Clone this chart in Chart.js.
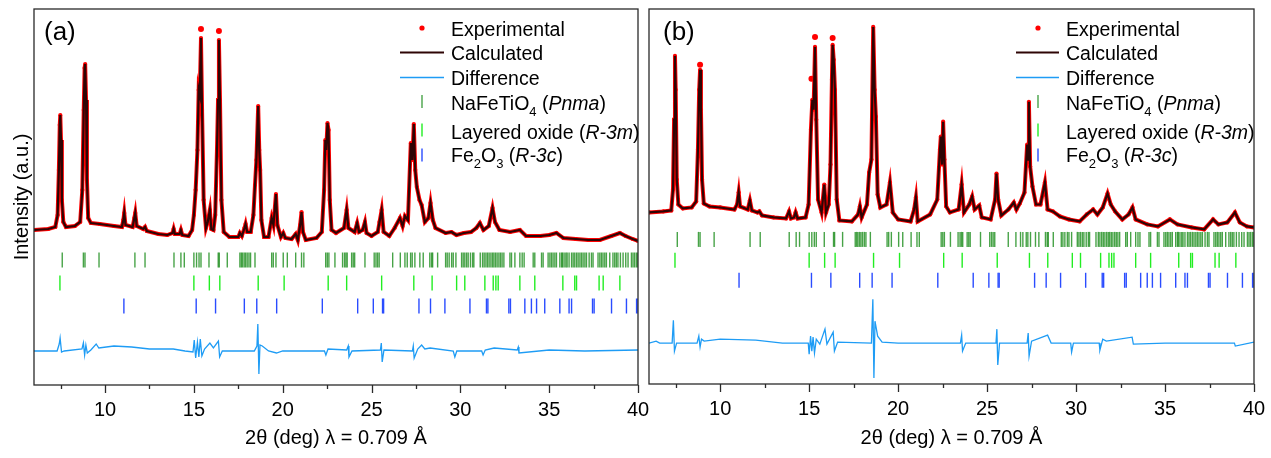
<!DOCTYPE html>
<html>
<head>
<meta charset="utf-8">
<script src="https://cdn.jsdelivr.net/npm/chart.js@4.4.1/dist/chart.umd.min.js"></script>
<style>
  body { margin: 0; background: #fff; width: 1271px; height: 458px; position: relative; overflow: hidden; }
  canvas { position: absolute; top: 0; }
  #chartA { left: 0; }
  #chartB { left: 640px; }
</style>
</head>
<body>
<canvas id="chartA" width="652" height="458"></canvas>
<canvas id="chartB" width="631" height="458"></canvas>
<script>
// ===== Data (2theta in deg, intensity in a.u.) =====

const xTickLabels = [10, 15, 20, 25, 30, 35, 40];
const xMinorTicks = [7.5, 12.5, 17.5, 22.5, 27.5, 32.5, 37.5];

// panel (a) calculated profile
const calcA = [
  [6.0, 155], [6.8, 156], [7.2, 158], [7.33, 170], [7.4, 215], [7.45, 260], [7.48, 270], [7.52, 245],
  [7.57, 185], [7.65, 163], [7.8, 158], [8.3, 159], [8.6, 163], [8.72, 195], [8.8, 275], [8.85, 317],
  [8.88, 321], [8.93, 285], [8.98, 205], [9.05, 167], [9.2, 162], [9.7, 161], [10.5, 159], [10.95, 158],
  [11.03, 165], [11.08, 172], [11.15, 160], [11.55, 158], [11.65, 167], [11.7, 172], [11.78, 159],
  [12.15, 156], [12.25, 158], [12.35, 154], [13.0, 151], [13.5, 150], [13.8, 152], [13.86, 156],
  [13.93, 151], [14.2, 151], [14.27, 155], [14.35, 150], [14.7, 149], [14.9, 155], [15.0, 170],
  [15.1, 195], [15.2, 235], [15.27, 295], [15.33, 290], [15.4, 347], [15.46, 275], [15.55, 185],
  [15.68, 157], [15.78, 163], [15.9, 175], [15.98, 156], [16.1, 155], [16.2, 170], [16.3, 235],
  [16.36, 285], [16.41, 345], [16.47, 285], [16.55, 185], [16.68, 153], [17.0, 148], [17.5, 148],
  [17.59, 152], [17.7, 149], [17.85, 157], [17.91, 161], [18.0, 153], [18.2, 153], [18.35, 170],
  [18.44, 200], [18.52, 225], [18.62, 279], [18.68, 235], [18.73, 215], [18.8, 165], [18.95, 148],
  [19.2, 148], [19.38, 167], [19.48, 160], [19.62, 191], [19.7, 160], [19.9, 148], [20.03, 152],
  [20.15, 147], [20.5, 146], [20.73, 151], [20.85, 145], [20.98, 160], [21.06, 173], [21.14, 153],
  [21.3, 145], [21.9, 147], [22.2, 153], [22.33, 195], [22.4, 245], [22.45, 235], [22.52, 262],
  [22.58, 255], [22.65, 185], [22.75, 155], [23.0, 152], [23.45, 157], [23.6, 175], [23.7, 157],
  [24.05, 153], [24.19, 162], [24.3, 153], [24.5, 155], [24.63, 163], [24.72, 152], [25.0, 149],
  [25.35, 153], [25.45, 163], [25.57, 175], [25.68, 153], [26.0, 149], [26.3, 157], [26.6, 167],
  [26.75, 159], [26.88, 169], [27.05, 165], [27.21, 242], [27.3, 225], [27.38, 261], [27.46, 215],
  [27.55, 198], [27.7, 185], [27.82, 180], [28.0, 163], [28.2, 167], [28.32, 182], [28.45, 165],
  [28.6, 157], [29.17, 152], [29.5, 153], [29.78, 150], [30.2, 152], [30.6, 153], [30.9, 157],
  [31.1, 162], [31.3, 155], [31.6, 159], [31.81, 177], [31.95, 163], [32.2, 155], [32.8, 153],
  [33.35, 155], [33.7, 149], [34.5, 149], [35.0, 150], [35.41, 152], [35.8, 147], [36.5, 146],
  [37.2, 145], [37.85, 145], [38.5, 149], [38.98, 152], [39.3, 149], [39.7, 146], [40.0, 144]
];
// experimental points standing clear above the calculated tops
const expTopsA = [[15.4, 356], [16.41, 354]];

const diffA = [
  [6.0, 34], [7.3, 34], [7.42, 41], [7.47, 47], [7.55, 33], [7.7, 34], [8.7, 36], [8.78, 42],
  [8.85, 30], [8.92, 40], [9.0, 32], [9.2, 35], [9.5, 41], [9.65, 37], [10.5, 39], [11.5, 38],
  [12.5, 36], [13.84, 36], [14.5, 34], [14.95, 33], [15.02, 45], [15.1, 27], [15.2, 43], [15.28, 28],
  [15.36, 46], [15.45, 29], [15.6, 36], [15.9, 42], [16.1, 37], [16.38, 44], [16.45, 28], [16.6, 34],
  [18.4, 34], [18.55, 39], [18.6, 61], [18.66, 11], [18.72, 40], [18.85, 39], [19.2, 34], [19.65, 32],
  [20.0, 34], [22.35, 34], [22.43, 30], [22.55, 36], [23.6, 35], [23.69, 39], [23.73, 28], [23.9, 34],
  [25.5, 35], [25.55, 42], [25.6, 23], [25.7, 35], [27.3, 34], [27.35, 39], [27.4, 27], [27.6, 36],
  [27.82, 40], [28.0, 36], [28.3, 37], [29.6, 34], [29.69, 28], [29.8, 34], [31.2, 34], [31.28, 30],
  [31.4, 35], [31.9, 37], [33.2, 35], [33.26, 38], [33.3, 32], [35.0, 35], [37.0, 34], [40.0, 35]
];

// panel (b) calculated profile
const calcB = [
  [6.0, 172], [6.8, 173], [7.25, 174], [7.35, 195], [7.41, 265], [7.46, 329], [7.5, 295], [7.56, 205],
  [7.65, 180], [7.9, 176], [8.4, 177], [8.65, 183], [8.75, 235], [8.82, 295], [8.87, 315], [8.92, 275],
  [8.98, 205], [9.08, 181], [9.4, 178], [10.0, 177], [10.8, 175], [10.95, 180], [11.04, 192],
  [11.12, 178], [11.55, 175], [11.67, 184], [11.78, 174], [12.1, 172], [12.2, 173], [12.35, 169],
  [13.0, 167], [13.7, 166], [13.87, 173], [13.98, 166], [14.15, 167], [14.24, 172], [14.35, 166],
  [14.8, 167], [14.97, 180], [15.1, 255], [15.18, 285], [15.25, 275], [15.33, 338], [15.4, 265],
  [15.5, 185], [15.7, 172], [15.85, 200], [15.95, 172], [16.1, 180], [16.2, 220], [16.28, 305],
  [16.32, 340], [16.38, 325], [16.45, 295], [16.55, 185], [16.7, 164], [17.4, 163], [17.75, 170],
  [17.85, 178], [17.95, 167], [18.25, 180], [18.37, 212], [18.5, 225], [18.6, 358], [18.68, 295],
  [18.75, 268], [18.85, 190], [19.0, 177], [19.35, 180], [19.54, 202], [19.7, 172], [20.0, 165],
  [20.7, 163], [20.9, 175], [21.0, 187], [21.1, 163], [21.8, 170], [22.2, 185], [22.35, 235],
  [22.4, 248], [22.47, 220], [22.53, 263], [22.6, 225], [22.7, 178], [22.91, 172], [23.4, 175],
  [23.57, 200], [23.7, 172], [24.0, 180], [24.16, 188], [24.3, 175], [24.56, 179], [24.7, 167],
  [25.2, 165], [25.45, 185], [25.53, 211], [25.62, 185], [25.8, 169], [26.2, 175], [26.5, 182],
  [26.65, 175], [26.84, 181], [27.1, 192], [27.25, 240], [27.3, 225], [27.35, 283], [27.42, 218],
  [27.55, 198], [27.75, 180], [28.0, 180], [28.25, 202], [28.4, 175], [28.7, 173], [29.09, 168],
  [29.6, 165], [30.2, 163], [30.6, 170], [30.96, 175], [31.2, 170], [31.5, 177], [31.77, 191],
  [31.95, 180], [32.2, 173], [32.6, 165], [32.95, 170], [33.17, 177], [33.35, 165], [34.0, 160],
  [34.6, 158], [35.27, 165], [35.7, 160], [36.5, 157], [37.2, 155], [37.7, 165], [38.0, 160],
  [38.5, 162], [38.93, 172], [39.2, 162], [39.6, 158], [40.0, 157]
];
const expTopsB = [[8.87, 320], [15.13, 306], [15.33, 348], [16.32, 347]];

const diffB = [
  [6.0, 41], [6.4, 43], [6.6, 41], [7.3, 41], [7.37, 64], [7.43, 33], [7.55, 41], [8.7, 41],
  [8.8, 48], [8.87, 37], [8.95, 45], [9.1, 43], [10.0, 45], [12.0, 44], [13.5, 41], [14.95, 41],
  [15.0, 30], [15.08, 48], [15.15, 33], [15.22, 47], [15.3, 31], [15.4, 45], [15.6, 40], [15.89, 55],
  [16.0, 40], [16.35, 52], [16.42, 33], [16.6, 42], [18.5, 41], [18.58, 85], [18.64, 6], [18.7, 63],
  [18.85, 48], [19.1, 42], [20.0, 41], [23.5, 41], [23.57, 49], [23.62, 33], [23.8, 41], [25.5, 41],
  [25.55, 55], [25.6, 19], [25.7, 41], [27.25, 41], [27.31, 51], [27.36, 28], [27.5, 43], [28.4, 49],
  [28.6, 41], [29.7, 41], [29.75, 32], [29.85, 41], [31.3, 41], [31.34, 34], [31.5, 45], [31.7, 43],
  [33.15, 47], [33.22, 40], [35.0, 41], [38.9, 41], [38.95, 38], [40.0, 42]
];

// reflection positions (same for both panels)
const peaksNaFeTiO4 = [
  7.59, 8.78, 8.87, 9.66, 11.68, 12.25, 13.88, 14.27, 14.46, 15.0, 15.15, 15.29, 15.4, 15.85, 16.37,
  16.43, 16.88, 17.59, 17.67, 17.74, 17.83, 17.91, 18.0, 18.1, 18.19, 18.44, 19.38, 19.47, 19.62,
  20.03, 20.26, 20.73, 21.06, 21.19, 22.42, 22.51, 22.6, 22.94, 23.37, 23.48, 23.56, 23.63, 23.88,
  23.97, 24.05, 24.63, 25.15, 25.25, 25.34, 25.43, 26.19, 26.62, 26.88, 27.01, 27.2, 27.29, 27.44,
  27.72, 27.91, 28.28, 28.38, 28.44, 28.72, 29.17, 29.26, 29.37, 29.51, 29.6, 29.75, 30.07, 30.16,
  30.25, 30.35, 30.44, 30.57, 30.69, 30.76, 31.12, 31.25, 31.34, 31.44, 31.53, 31.62, 31.72, 31.81,
  31.89, 31.98, 32.07, 32.17, 32.26, 32.35, 32.45, 32.79, 32.88, 33.07, 33.35, 33.48, 33.59, 34.1,
  34.19, 34.57, 34.66, 34.94, 35.04, 35.13, 35.22, 35.32, 35.41, 35.6, 35.7, 35.75, 35.84, 35.94,
  36.01, 36.12, 36.26, 36.35, 36.44, 36.54, 36.63, 36.73, 36.82, 36.91, 37.01, 37.1, 37.25, 37.38,
  37.47, 37.75, 37.85, 37.94, 38.03, 38.13, 38.22, 38.41, 38.59, 38.69, 38.78, 38.87, 39.01, 39.16,
  39.31, 39.44, 39.63, 39.72, 39.81, 39.91, 39.99
];
const peaksLayered = [
  7.46, 15.0, 15.87, 16.46, 18.62, 20.08, 22.56, 23.6, 25.57, 27.38, 28.41, 29.79, 30.25, 31.38,
  31.85, 32.0, 32.13, 33.35, 34.19, 35.77, 36.44, 36.54, 37.81, 38.04, 38.98
];
const peaksFe2O3 = [
  11.06, 15.13, 16.22, 17.84, 18.54, 19.66, 22.23, 24.22, 25.1, 25.62, 25.68, 27.67, 28.32, 29.13,
  30.54, 31.47, 31.55, 32.73, 32.82, 33.63, 34.0, 34.29, 34.75, 35.6, 36.12, 36.26, 37.44, 37.53,
  38.51, 39.35, 39.92, 40.0
];

// ===== Styles =====

const FONT = 'Arial, "Liberation Sans", sans-serif';
const RED = '#ff0000';
const CALC = '#2e0505';
const DIFF = '#1e9cf5';
const GREEN_DARK = 'rgba(0,128,0,0.72)';
const GREEN_LIGHT = '#22ee22';
const BLUE = '#2a4cff';

// ===== Helpers =====

function pts(pairs) {
  return pairs.map(p => ({ x: p[0], y: p[1] }));
}

function tickPts(list, row) {
  return list.map(x => ({ x: x, y: row }));
}

function tickSet(label, list, row, color) {
  return {
    label: label,
    data: tickPts(list, row),
    showLine: false,
    pointStyle: 'line',
    rotation: 90,
    pointRadius: 7.5,
    pointBorderWidth: 1.4,
    pointBorderColor: color,
    pointBackgroundColor: color,
    order: 5
  };
}

// draw text made of pieces (subscripts / italics)
function richText(ctx, x, y, parts) {
  parts.forEach(p => {
    const size = p.sub ? 13 : 19.5;
    ctx.font = (p.it ? 'italic ' : '') + size + 'px ' + FONT;
    ctx.fillText(p.t, x, y + (p.sub ? 6 : 0));
    x += ctx.measureText(p.t).width;
  });
}

function drawLegend(ctx, mx, tx, lx0, lx1) {
  ctx.save();
  ctx.textBaseline = 'alphabetic';

  ctx.fillStyle = RED;
  ctx.beginPath();
  ctx.arc(mx, 28, 2.6, 0, Math.PI * 2);
  ctx.fill();

  ctx.lineWidth = 2.2;
  ctx.strokeStyle = CALC;
  ctx.beginPath(); ctx.moveTo(lx0, 52.5); ctx.lineTo(lx1, 52.5); ctx.stroke();
  ctx.lineWidth = 1.4;
  ctx.strokeStyle = DIFF;
  ctx.beginPath(); ctx.moveTo(lx0, 77.5); ctx.lineTo(lx1, 77.5); ctx.stroke();

  [[101.5, GREEN_DARK], [130, GREEN_LIGHT], [155, BLUE]].forEach(([y, c]) => {
    ctx.strokeStyle = c;
    ctx.lineWidth = 1.4;
    ctx.beginPath(); ctx.moveTo(mx, y - 6.5); ctx.lineTo(mx, y + 6.5); ctx.stroke();
  });

  ctx.fillStyle = '#000';
  richText(ctx, tx, 36, [{ t: 'Experimental' }]);
  richText(ctx, tx, 60, [{ t: 'Calculated' }]);
  richText(ctx, tx, 85, [{ t: 'Difference' }]);
  richText(ctx, tx, 110, [{ t: 'NaFeTiO' }, { t: '4', sub: true }, { t: ' (' }, { t: 'Pnma', it: true }, { t: ')' }]);
  richText(ctx, tx, 139, [{ t: 'Layered oxide (' }, { t: 'R-3m', it: true }, { t: ')' }]);
  richText(ctx, tx, 162, [{ t: 'Fe' }, { t: '2', sub: true }, { t: 'O' }, { t: '3', sub: true }, { t: ' (' }, { t: 'R-3c', it: true }, { t: ')' }]);
  ctx.restore();
}

// frame, outward x ticks, panel letter, legend
const decorPlugin = {
  id: 'decor',
  afterDraw(chart, args, opts) {
    const ctx = chart.ctx;
    const a = chart.chartArea;
    const xs = chart.scales.x;
    ctx.save();
    ctx.strokeStyle = '#2a2a2a';
    ctx.lineWidth = 1.3;
    ctx.strokeRect(a.left, a.top, a.right - a.left, a.bottom - a.top);
    xTickLabels.forEach(v => {
      const px = Math.round(xs.getPixelForValue(v)) + 0.5;
      ctx.beginPath(); ctx.moveTo(px, a.bottom); ctx.lineTo(px, a.bottom + 8); ctx.stroke();
    });
    xMinorTicks.forEach(v => {
      const px = Math.round(xs.getPixelForValue(v)) + 0.5;
      ctx.beginPath(); ctx.moveTo(px, a.bottom); ctx.lineTo(px, a.bottom + 4); ctx.stroke();
    });
    ctx.fillStyle = '#000';
    ctx.font = '26px ' + FONT;
    ctx.fillText(opts.letter, opts.letterX, 39.5);
    ctx.restore();
    drawLegend(ctx, opts.mx, opts.tx, opts.lx0, opts.lx1);
  }
};

function makePanel(id, p) {
  const ctx = document.getElementById(id).getContext('2d');
  return new Chart(ctx, {
    type: 'scatter',
    data: {
      datasets: [
        {
          label: 'Experimental',
          data: pts(p.calc),
          showLine: true,
          borderColor: RED,
          borderWidth: 4,
          pointRadius: 2.1,
          pointBackgroundColor: RED,
          pointBorderWidth: 0,
          tension: 0,
          order: 3
        },
        {
          label: 'Experimental tops',
          data: pts(p.tops),
          showLine: false,
          pointRadius: 3,
          pointBackgroundColor: RED,
          pointBorderWidth: 0,
          order: 2
        },
        {
          label: 'Calculated',
          data: pts(p.calc),
          showLine: true,
          borderColor: CALC,
          borderWidth: 2.2,
          pointRadius: 0,
          tension: 0,
          order: 1
        },
        {
          label: 'Difference',
          data: pts(p.diff),
          showLine: true,
          borderColor: DIFF,
          borderWidth: 1.3,
          pointRadius: 0,
          tension: 0,
          order: 4
        },
        tickSet('NaFeTiO4 (Pnma)', peaksNaFeTiO4, p.rows[0], GREEN_DARK),
        tickSet('Layered oxide (R-3m)', peaksLayered, p.rows[1], GREEN_LIGHT),
        tickSet('Fe2O3 (R-3c)', peaksFe2O3, p.rows[2], BLUE)
      ]
    },
    options: {
      responsive: false,
      animation: false,
      devicePixelRatio: 1,
      events: [],
      layout: { padding: { top: 9, left: p.padLeft, right: p.padRight, bottom: 0 } },
      plugins: {
        legend: { display: false },
        tooltip: { enabled: false },
        decor: p.decor
      },
      scales: {
        x: {
          type: 'linear',
          min: 6,
          max: 40,
          afterBuildTicks: (s) => { s.ticks = xTickLabels.map(v => ({ value: v })); },
          afterFit: (s) => { s.height = p.xHeight; s.paddingLeft = 0; s.paddingRight = 0; },
          grid: { display: false, drawTicks: false },
          border: { display: false },
          ticks: {
            color: '#000',
            padding: 13,
            maxRotation: 0,
            font: { family: FONT, size: 20 }
          },
          title: {
            display: true,
            text: '2θ (deg) λ = 0.709 Å',
            color: '#000',
            padding: { top: 0, bottom: 8 },
            font: { family: FONT, size: 20 }
          }
        },
        y: {
          min: 0,
          max: 376,
          display: p.showY,
          afterFit: (s) => { s.width = p.showY ? 34 : 0; },
          grid: { display: false, drawTicks: false },
          border: { display: false },
          ticks: { display: false },
          title: {
            display: true,
            text: 'Intensity (a.u.)',
            color: '#000',
            padding: { top: 10, bottom: 0 },
            font: { family: FONT, size: 20 }
          }
        }
      }
    },
    plugins: [decorPlugin]
  });
}

// ===== Initialize =====

makePanel('chartA', {
  calc: calcA, tops: expTopsA, diff: diffA,
  rows: [125, 102, 79],
  padLeft: 0, padRight: 14, xHeight: 73, showY: true,
  decor: { letter: '(a)', letterX: 44, mx: 422, tx: 451, lx0: 400, lx1: 444 }
});

makePanel('chartB', {
  calc: calcB, tops: expTopsB, diff: diffB,
  rows: [145, 124, 104],
  padLeft: 9, padRight: 17, xHeight: 74, showY: false,
  decor: { letter: '(b)', letterX: 23, mx: 398, tx: 426, lx0: 376, lx1: 419 }
});
</script>
</body>
</html>
